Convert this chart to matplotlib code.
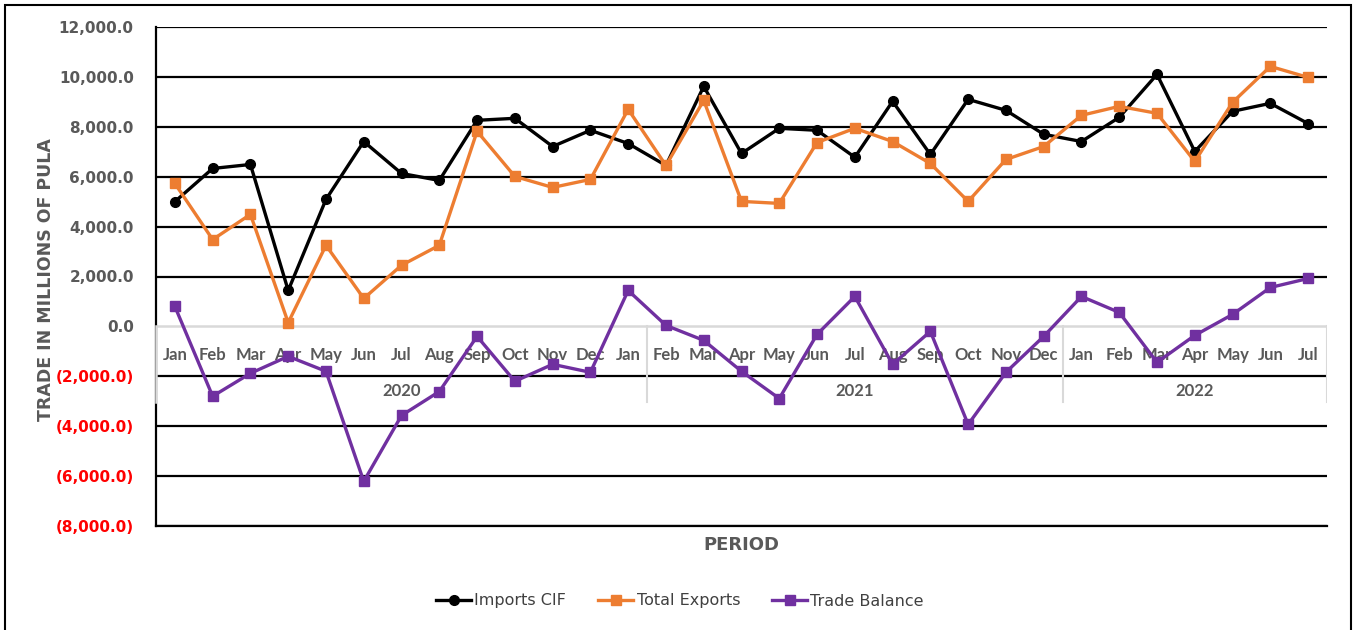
import matplotlib
matplotlib.use('Agg')
import matplotlib.pyplot as plt
import matplotlib.transforms as mtransforms
from matplotlib.patches import Rectangle
from matplotlib.ticker import FuncFormatter

months = ['Jan', 'Feb', 'Mar', 'Apr', 'May', 'Jun', 'Jul', 'Aug', 'Sep', 'Oct', 'Nov', 'Dec', 'Jan',
          'Feb', 'Mar', 'Apr', 'May', 'Jun', 'Jul', 'Aug', 'Sep', 'Oct', 'Nov', 'Dec',
          'Jan', 'Feb', 'Mar', 'Apr', 'May', 'Jun', 'Jul']
years = ['2020', '2021', '2022']
year_sizes = [13, 11, 7]

imports_cif = [5000, 6330, 6490, 1440, 5090, 7410, 6130, 5850, 8260, 8340, 7210, 7860, 7330,
               6450, 9620, 6930, 7940, 7860, 6780, 9020, 6890, 9100, 8660, 7700,
               7410, 8380, 10100, 7010, 8620, 8940, 8130]
total_exports = [5730, 3480, 4490, 150, 3250, 1120, 2450, 3250, 7820, 6010, 5570, 5890, 8700,
                 6450, 9060, 5010, 4930, 7370, 7940, 7410, 6530, 5010, 6690, 7210,
                 8460, 8820, 8540, 6610, 8980, 10420, 9980]
trade_balance = [800, -2800, -1880, -1200, -1800, -6210, -3570, -2610, -400, -2200, -1520, -1840, 1440,
                 40, -560, -1800, -2890, -320, 1200, -1520, -200, -3930, -1840, -400,
                 1200, 560, -1440, -360, 480, 1560, 1920]

gray = '#595959'
x = list(range(len(months)))

fig = plt.figure(figsize=(13.53, 6.3), dpi=100)
ax = fig.add_axes([156 / 1353, 1 - 526 / 630, 1171 / 1353, 499 / 630])

# outer chart border
fig.patches.append(Rectangle((5 / 1353, -0.05), 1346 / 1353, 1.05 - 5 / 630, transform=fig.transFigure,
                             fill=False, edgecolor='black', linewidth=1.5))

ax.plot(x, imports_cif, color='black', lw=2.4, marker='o', ms=7, label='Imports CIF', zorder=4)
ax.plot(x, total_exports, color='#ED7D31', lw=2.4, marker='s', ms=7, label='Total Exports', zorder=4)
ax.plot(x, trade_balance, color='#7030A0', lw=2.4, marker='s', ms=7, label='Trade Balance', zorder=4)

ax.set_xlim(-0.5, len(months) - 0.5)
ax.set_ylim(-8000, 12000)
ax.set_yticks(range(-8000, 12001, 2000))
ax.yaxis.set_major_formatter(FuncFormatter(
    lambda v, p: '{:,.1f}'.format(v) if v >= 0 else '({:,.1f})'.format(-v)))
ax.tick_params(axis='y', length=0, pad=16)
for t in ax.get_yticklabels():
    t.set_fontweight('bold')
    t.set_fontsize(11)
    t.set_color('red' if t.get_text().startswith('(') else gray)
ax.set_xticks([])

for v in range(-8000, 12001, 2000):
    if v != 0:
        ax.axhline(v, color='black', lw=1.6, zorder=1)

for s in ['top', 'right']:
    ax.spines[s].set_visible(False)
ax.spines['left'].set_linewidth(1.6)
ax.spines['bottom'].set_linewidth(1.6)

# category axis box at zero
trans = mtransforms.blended_transform_factory(ax.transData, ax.transAxes)
box_top = 0.4008
box_bot = 0.2485
ax.axhline(0, color='#d9d9d9', lw=1.8, zorder=2)
ax.plot([-0.5, -0.5], [box_bot, box_top], transform=trans, color='#d9d9d9', lw=1.8, zorder=3, clip_on=False)
start = 0
for n in year_sizes:
    end = start + n
    ax.plot([end - 0.5, end - 0.5], [box_bot, box_top], transform=trans, color='#d9d9d9', lw=1.5, zorder=2)
    start = end
for i, m in enumerate(months):
    ax.text(i, 0.3427, m, transform=trans, ha='center', va='center', fontsize=12,
            family='Lato', fontweight='bold', color=gray, zorder=3)
start = 0
for yr, n in zip(years, year_sizes):
    ax.text(start + (n - 1) / 2, 0.2705, yr, transform=trans, ha='center', va='center', fontsize=12,
            family='Lato', fontweight='bold', color=gray, zorder=3)
    start += n

fig.text(46 / 1353, 1 - 280 / 630, 'TRADE IN MILLIONS OF PULA', rotation=90, ha='center', va='center',
         fontsize=12.5, fontweight='bold', color=gray)
fig.text(741 / 1353, 1 - 545 / 630, 'PERIOD', ha='center', va='center', fontsize=13,
         fontweight='bold', color=gray)

fig.legend(loc='center', bbox_to_anchor=(680 / 1353, 1 - 601 / 630), ncol=3, frameon=False,
           fontsize=11.5, handlelength=2.2, columnspacing=2.0, handletextpad=0.2,
           labelcolor='#404040')

fig.savefig('out.png', dpi=100)
